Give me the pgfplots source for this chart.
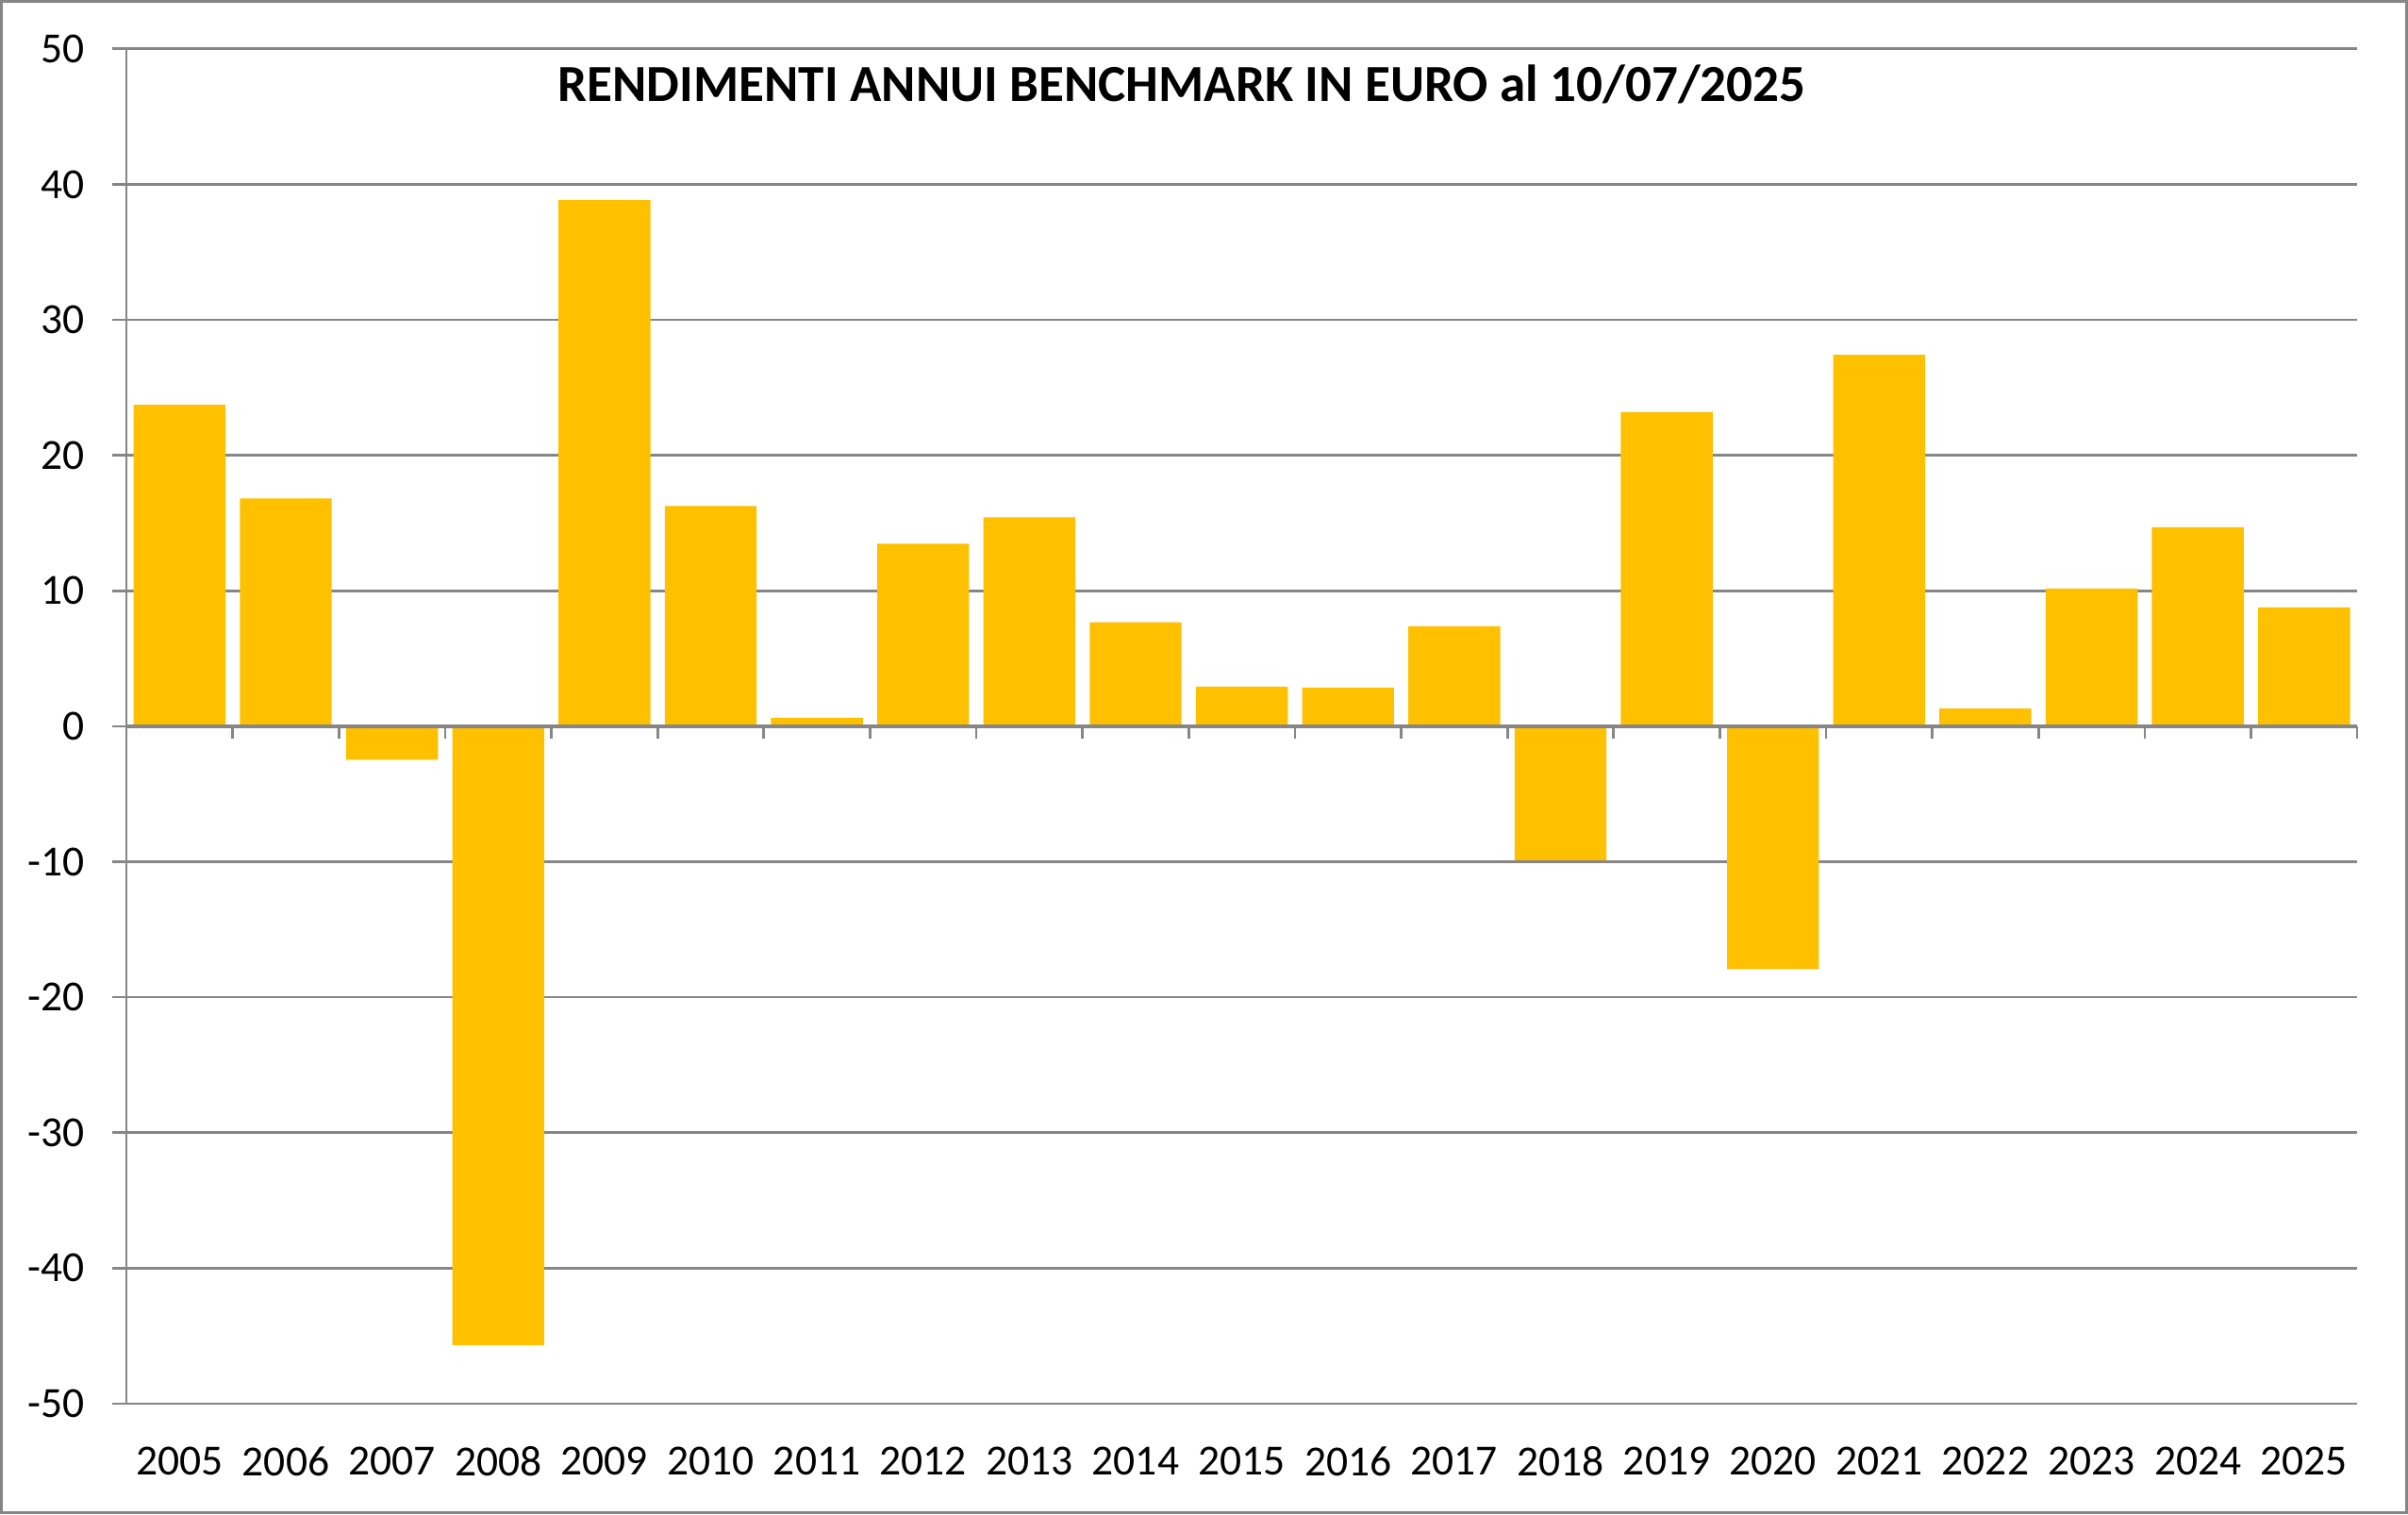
\documentclass[border=0pt]{standalone}
\usepackage{fontspec}
\setmainfont{Carlito}
\usepackage{pgfplots}
\pgfplotsset{compat=1.18}
\definecolor{barc}{HTML}{FFC000}
\definecolor{gridc}{HTML}{868686}
\begin{document}
\begin{tikzpicture}
\useasboundingbox (0,0) rectangle (729.4pt,458.6pt);
\draw[gridc, line width=0.9pt] (0.45pt,0.45pt) rectangle (728.95pt,458.15pt);
\begin{axis}[
  at={(38.3pt,33.5pt)}, anchor=south west,
  scale only axis, width=675.7pt, height=410.3pt,
  xmin=-0.5, xmax=20.5, ymin=-50, ymax=50,
  axis x line=bottom, axis y line=left,
  axis line style={-, gridc, line width=0.77pt},
  ymajorgrids, grid style={gridc, line width=0.77pt},
  tick align=outside, major tick length=4.3pt,
  xtick={0,...,20},
  xticklabels={2005,2006,2007,2008,2009,2010,2011,2012,2013,2014,2015,2016,2017,2018,2019,2020,2021,2022,2023,2024,2025},
  xtick style={draw=none},
  ytick={-50,-40,...,50},
  yticklabels={-50,-40,-30,-20,-10,0,10,20,30,40,50},
  ytick style={gridc, line width=0.77pt},
  tick label style={font=\fontsize{13}{15}\selectfont},
  xticklabel style={anchor=north, inner sep=0pt, yshift=-8.6pt},
  yticklabel style={anchor=east, inner sep=0pt, xshift=-8.3pt},
  /pgf/number format/assume math mode=true,
  clip=false,
]
\addplot[ybar, bar width=0.865, fill=barc, draw=none] coordinates {
(0,23.72) (1,16.81) (2,-2.47) (3,-45.68) (4,38.84) (5,16.26) (6,0.63)
(7,13.47) (8,15.42) (9,7.67) (10,2.92) (11,2.85) (12,7.38) (13,-9.89)
(14,23.18) (15,-17.93) (16,27.42) (17,1.30) (18,10.16) (19,14.69) (20,8.77)
};
\addplot[gridc, line width=0.95pt, mark=none] coordinates {(-0.5,0) (20.5,0)};
\addplot[ycomb, gridc, line width=0.77pt, mark=none] coordinates {
(0.5,-0.93) (1.5,-0.93) (2.5,-0.93) (3.5,-0.93) (4.5,-0.93) (5.5,-0.93) (6.5,-0.93)
(7.5,-0.93) (8.5,-0.93) (9.5,-0.93) (10.5,-0.93) (11.5,-0.93) (12.5,-0.93) (13.5,-0.93)
(14.5,-0.93) (15.5,-0.93) (16.5,-0.93) (17.5,-0.93) (18.5,-0.93) (19.5,-0.93) (20.5,-0.93)
};
\end{axis}
\node[font=\bfseries\fontsize{15.75}{18}\selectfont] at (358pt,433pt) {RENDIMENTI ANNUI BENCHMARK IN EURO al 10/07/2025};
\end{tikzpicture}
\end{document}
